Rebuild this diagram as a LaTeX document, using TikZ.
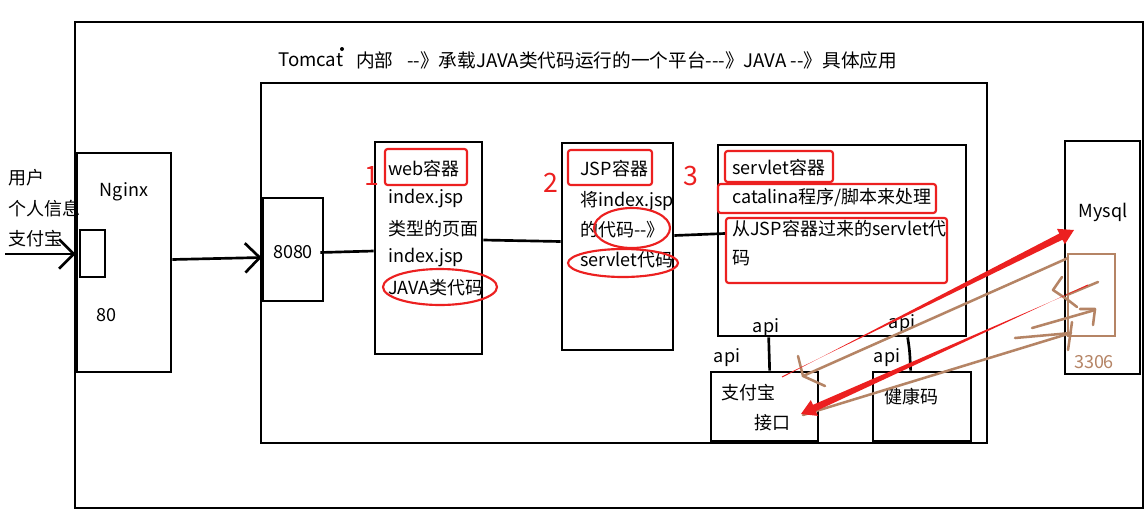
\documentclass[tikz,border=0pt]{standalone}
\usepackage{fontspec}
\setmainfont{Noto Sans CJK SC}
\usetikzlibrary{arrows.meta,calc,fit}
\definecolor{redpen}{RGB}{236,32,32}
\definecolor{brownpen}{RGB}{181,132,101}
\newcommand\dd{-\kern0pt-}
\newcommand\ddd{-\kern0pt-\kern0pt-}
\newcommand\bodyfont{\fontsize{13.5pt}{16pt}\selectfont}
\newcommand\titlefont{\fontsize{14pt}{16pt}\selectfont}
\newcommand\taperarrow[3]{%
  \path (#2) coordinate (tt) ($(#2)!11pt!(#1)$) coordinate (tb) (#1) coordinate (ts);
  \fill[#3] ($(ts)!0.4pt!90:(tt)$) -- ($(tb)!2.6pt!-90:(tt)$) -- ($(tb)!6.5pt!-90:(tt)$) -- (tt)
     -- ($(tb)!6.5pt!90:(tt)$) -- ($(tb)!2.6pt!90:(tt)$) -- ($(ts)!0.4pt!-90:(tt)$) -- cycle;}
\begin{document}
\begin{tikzpicture}[x=0.75pt,y=-0.75pt,
  box/.style={draw=black,line width=2pt,inner sep=0pt},
  redbox/.style={draw=redpen,line width=1.6pt,inner sep=0pt,rounded corners=2pt},
  txt/.style={font=\bodyfont,inner sep=0pt,anchor=west},
  ttl/.style={font=\titlefont,inner sep=0pt,anchor=west},
  ctxt/.style={font=\bodyfont,inner sep=0pt},
  num/.style={font=\fontsize{20pt}{22pt}\selectfont,text=redpen,inner sep=0pt},
  conn/.style={line width=2pt},
  arr/.style={line width=2pt,-{Straight Barb[length=11pt,width=22pt,line width=2pt]}},
  redring/.style={draw=redpen,line width=1.6pt},
  brown/.style={draw=brownpen,line width=1.9pt,line cap=round,line join=round}]
\useasboundingbox (0,0) rectangle (1147,529);
\fill[white] (0,0) rectangle (1147,529);

% frames
\node[box,fit={(75,22) (1143,508)}] (outer) {};
\node[box,fit={(261,83) (987,443)}] (tomcat) {};
\node[box,fit={(77,153) (171,372)}] (nginx) {};
\node[box,fit={(80,230) (105,277)}] (p80) {};
\node[box,fit={(263,198) (323,301)}] (p8080) {};
\node[box,fit={(375,142) (482,354)}] (web) {};
\node[box,fit={(562,143) (673,350)}] (jsp) {};
\node[box,fit={(718,145) (966,336)}] (servlet) {};
\node[box,fit={(711,372) (818,441)}] (zfb) {};
\node[box,fit={(873,372) (971,441)}] (jkm) {};
\node[box,fit={(1065,141) (1140,374)}] (mysql) {};
\node[draw=brownpen,line width=1.8pt,inner sep=0pt,fit={(1068,254) (1115,336)}] (port3306) {};

% title
\node[ttl] (t1) at (278,60) {Tomcat};
\fill (342,49) circle[radius=2];
\node[ttl] (t2) at (356,60) {内部};
\node[ttl] (t3) at (407,60) {\dd》承载JAVA类代码运行的一个平台\ddd》JAVA \dd》具体应用};

% left user text
\node[txt] (u1) at (8,178) {用户};
\node[txt] (u2) at (8,209) {个人信息};
\node[txt] (u3) at (8,239) {支付宝};
\coordinate (usr) at (5,254);

% nginx
\node[ctxt] (nglabel) at (124,192) {Nginx};
\node[ctxt] (lbl80) at (106,315) {80};
\node[ctxt] (lbl8080) at (293,252) {8080};

% web container
\node[txt] (w1) at (388,169) {web容器};
\node[txt] (w2) at (388,199) {index.jsp};
\node[txt] (w3) at (388,229) {类型的页面};
\node[txt] (w4) at (388,258) {index.jsp};
\node[txt] (w5) at (388,288) {JAVA类代码};
\node[redbox,fit={(385,149) (467,185)}] (rw) {};
\draw[redring] (440,287) ellipse [x radius=57, y radius=18];
\node[num] (n1) at (372,176) {1};

% jsp container
\begin{scope}
\clip (562,143) rectangle (673,350);
\node[txt] (j1) at (580,169) {JSP容器};
\node[txt] (j2) at (580,201) {将index.jsp};
\node[txt] (j3) at (580,230) {的代码\dd》};
\node[txt] (j4) at (580,260) {servlet代码};
\end{scope}
\node[redbox,fit={(568,150) (652,185)}] (rj) {};
\draw[redring] (632,228) ellipse [x radius=38, y radius=20];
\draw[redring] (623,263) ellipse [x radius=55, y radius=14];
\node[num] (n2) at (551,183) {2};
\node[num] (n3) at (691,176) {3};

% servlet container
\node[txt] (s1) at (732,168) {servlet容器};
\node[txt] (s2) at (732,198) {catalina程序/脚本来处理};
\node[txt] (s3) at (732,229) {从JSP容器过来的servlet代};
\node[txt] (s4) at (732,258) {码};
\node[redbox,fit={(725,151) (833,182)}] (rs1) {};
\node[redbox,fit={(718,184) (936,213)}] (rs2) {};
\node[redbox,fit={(726,218) (947,283)}] (rs3) {};

% api boxes
\node[ctxt] (a1) at (766,328) {api};
\node[ctxt] (a2) at (727,358) {api};
\node[ctxt] (a3) at (902,324) {api};
\node[ctxt] (a4) at (887,358) {api};
\node[ctxt] (z1) at (748,393) {支付宝};
\node[ctxt] (z2) at (772,423) {接口};
\node[ctxt] (k1) at (911,397) {健康码};

% mysql
\node[ctxt] (my) at (1103,212) {Mysql};
\node[ctxt,text=brownpen] (p3306) at (1094,362) {3306};

% connectors
\draw[arr] (usr) -- (usr -| nginx.west);
\draw[arr] ($(nginx.east)+(0,-3)$) -- ($(p8080.west)+(0,8)$);
\draw[conn] ($(p8080.east)+(-4,3)$) -- ($(web.west)+(0,3)$);
\draw[conn] ($(web.east)+(0,-8)$) -- ($(jsp.west)+(0,-5)$);
\draw[conn] ($(jsp.east)+(0,-11)$) -- ($(rs3.west)+(0,-17)$);
\draw[conn] ($(zfb.north west)+(60,0)$) -- ($(servlet.south west)+(52,0)$);
\draw[conn] ($(jkm.north west)+(39,0)$) .. controls ($(jkm.north west)+(38,-20)$) .. ($(servlet.south west)+(191,0)$);

% brown scribbles
\draw[brown] (1068,258) -- (803,376);
\draw[brown] (798,356) -- (803,376) -- (825,386);
\draw[brown] (803,415) -- (1071,333);
\draw[brown] (1072,322) -- (1068,350);
\draw[brown] (1032,328) -- (1095,310);
\draw[brown] (1080,309) -- (1095,309) -- (1093,325);
\draw[brown] (1015,338) -- (1071,333);
\draw[brown] (1062,277) -- (1053,290) -- (1068,300) -- (1077,307);
\draw[brown] (1067,295) -- (1098,282);

% red arrows
\coordinate (ra1) at (782,377);
\coordinate (ra2) at (1074,230);
\coordinate (rb1) at (1088,285);
\coordinate (rb2) at (801,414);
\taperarrow{ra1}{ra2}{redpen}
\taperarrow{rb1}{rb2}{redpen}
\end{tikzpicture}
\end{document}
